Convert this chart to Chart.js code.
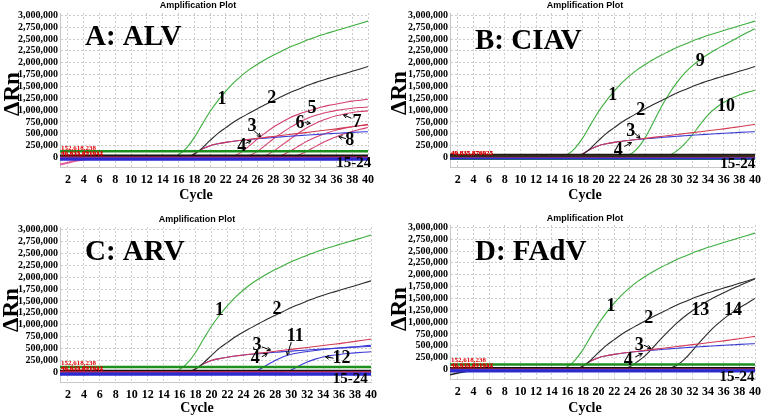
<!DOCTYPE html>
<html><head><meta charset="utf-8">
<script src="https://cdn.jsdelivr.net/npm/chart.js@4.4.1/dist/chart.umd.min.js"></script>
<style>
html,body{margin:0;padding:0;background:#fff;}
#wrap{position:relative;width:767px;height:418px;overflow:hidden;background:#fff;}
canvas{position:absolute;}
</style></head><body>
<div id="wrap">
<canvas id="cA" width="383" height="210" style="left:0px;top:0px"></canvas>
<canvas id="cB" width="382" height="210" style="left:385px;top:0px"></canvas>
<canvas id="cC" width="383" height="208" style="left:0px;top:210px"></canvas>
<canvas id="cD" width="382" height="208" style="left:385px;top:210px"></canvas>
</div>
<script>
// ---------- data (ΔRn in thousands) ----------
const cycles = [1,2,3,4,5,6,7,8,9,10,11,12,13,14,15,16,17,18,19,20,21,22,23,24,25,26,27,28,29,30,31,32,33,34,35,36,37,38,39,40];
const xTicks = [2,4,6,8,10,12,14,16,18,20,22,24,26,28,30,32,34,36,38,40];
const yTicks = [0,250,500,750,1000,1250,1500,1750,2000,2250,2500,2750,3000];
const yTickLabels = ['0','250,000','500,000','750,000','1,000,000','1,250,000','1,500,000','1,750,000','2,000,000','2,250,000','2,500,000','2,750,000','3,000,000'];

// shared curves 1-4
const curve1 = [-10,-10,-10,-10,-10,-10,-10,-10,-10,-10,-10,-10,-10,-10,-5,60,200,420,700,970,1200,1400,1580,1730,1860,1970,2070,2160,2240,2320,2390,2460,2520,2580,2630,2680,2730,2780,2830,2880];
const curve2 = [0,0,0,0,0,0,0,0,0,0, 0,0,0,0,0,0,0, 70,200,360,510,630,750,850,940,1030,1120,1200,1280,1360,1430,1500,1560,1620,1670,1720,1770,1820,1870,1920];
const curve3 = [0,0,0,0,0,0,0,0,0,0, 0,0,0,0,0,0,0, 80,180,250,290,320,345,365,385,405,425,445,465,485,505,525,545,565,585,605,628,651,675,700];
const curve4 = [0,0,0,0,0,0,0,0,0,0, 0,0,0,0,0,0,0, 80,180,250,290,320,345,365,380,395,410,423,436,448,460,471,482,492,502,512,521,530,538,545];

// panel A (ALV)
const curveA5 = [0,0,0,0,0,0,0,0,0,0, 0,0,0,0,0,0,0,0,0,0, 0,0, 30,120,250,390,520,640,740,830,900,960,1010,1060,1100,1130,1160,1190,1210,1230];
const curveA6 = [0,0,0,0,0,0,0,0,0,0, 0,0,0,0,0,0,0,0,0,0, 0,0,0,0, 40,130,260,390,510,620,720,800,870,920,960,995,1020,1040,1055,1065];
const curveA7 = [0,0,0,0,0,0,0,0,0,0, 0,0,0,0,0,0,0,0,0,0, 0,0,0,0,0,0, 40,130,250,370,490,600,690,770,830,880,920,950,970,985];
const curveAx = [0,0,0,0,0,0,0,0,0,0, 0,0,0,0,0,0,0,0,0,0, 0,0,0,0,0,0,0,0, 40,120,220,320,400,470,530,580,620,650,670,690];
const curveA8 = [0,0,0,0,0,0,0,0,0,0, 0,0,0,0,0,0,0,0,0,0, 0,0,0,0,0,0,0,0,0,0, 40,110,200,290,370,440,500,550,595,633];
const startA = [-150,-110,-70,-40,-15,0];
const thresholdA = 130;
const baselinesA = [-35,-22,5,35];

// panel B (CIAV)
const curveB9 = [0,0,0,0,0,0,0,0,0,0, 0,0,0,0,0,0,0,0,0,0, 0,0,0, 60,200,430,740,1060,1340,1580,1780,1940,2070,2180,2280,2370,2460,2550,2640,2720];
const curveB10 = [0,0,0,0,0,0,0,0,0,0, 0,0,0,0,0,0,0,0,0,0, 0,0,0,0,0,0,0,0, 40,140,290,480,700,900,1050,1160,1250,1320,1375,1420];
const thresholdB = -30;
const baselinesB = [-20,-8,18,40];

// panel C (ARV)
const curveC11 = [0,0,0,0,0,0,0,0,0,0, 0,0,0,0,0,0,0,0,0,0, 0,0,0,0,0, 60,160,250,330,380,415,440,462,480,497,512,526,540,555,570];
const curveC12 = [0,0,0,0,0,0,0,0,0,0, 0,0,0,0,0,0,0,0,0,0, 0,0,0,0,0,0,0,0,0, 50,140,220,280,325,355,378,396,411,423,433];
const thresholdC = 117;
const baselinesC = [-38,-22,8,33];

// panel D (FAdV)
const curveD13 = [0,0,0,0,0,0,0,0,0,0, 0,0,0,0,0,0,0,0,0,0, 0,0,0, 60,170,300,470,650,820,980,1120,1240,1350,1450,1540,1620,1700,1770,1840,1910];
const curveD14 = [0,0,0,0,0,0,0,0,0,0, 0,0,0,0,0,0,0,0,0,0, 0,0,0,0,0,0,0,0, 20,90,220,400,590,770,930,1070,1190,1300,1400,1500];
const startD = [-110,-75,-40,-15,-5,0];
const thresholdD = 106;
const baselinesD = [-30,-15,5,28];

// text labels [text, cycle, value]
const labelsA = [['1',21.5,1230],['2',27.8,1250],['3',25.3,655],['4',24.0,232],['5',32.9,1040],['6',31.4,711],['7',38.6,740],['8',37.7,373],['15-24',38.2,-118]];
const labelsB = [['1',21.8,1320],['2',25.4,1000],['9',33.0,2030],['10',36.3,1090],['3',24.1,550],['4',22.5,162],['15-24',37.8,-133]];
const labelsC = [['1',21.0,1310],['2',28.2,1320],['3',25.7,573],['4',25.5,294],['11',30.5,747],['12',36.3,294],['15-24',37.4,-147]];
const labelsD = [['1',21.6,1340],['2',26.4,1080],['13',33.0,1250],['14',37.2,1250],['3',25.2,513],['4',23.8,196],['15-24',37.7,-156]];
// arrows [fromCycle, fromValue, toCycle, toValue]
const arrowsA = [[25.6,560,26.4,440],[24.5,300,25.2,352],[32.0,735,32.7,722],[37.9,830,36.9,899],[37.2,400,36.3,440]];
const arrowsB = [[24.6,515,25.3,409],[23.3,232,24.2,317]];
const arrowsC = [[26.3,537,27.4,468],[26.3,327,27.0,399],[30.0,640,29.5,363],[35.3,300,34.3,327]];
const arrowsD = [[25.8,513,26.7,443],[24.7,266,25.6,338]];
// threshold read-outs [text, value]
const redTextA = [['152,618,238',150],['40,635,891912',62],['56,533,871943',25]];
const redTextB = [['49,835,876925',62],['49,835,876925',45]];
const redTextC = [['152,618,238',150],['40,635,891912',62],['56,533,871943',25]];
const redTextD = [['152,618,238',150],['40,635,891912',62],['56,533,871943',25]];
const panelNames = ['A: ALV','B: CIAV','C: ARV','D: FAdV'];

// ---------- rendering ----------
const GREEN = '#3cae3c', BLACK = '#2a2a2a', PINK = '#d4406e', RED = '#d23a55', BLUE = '#3a3ad6';
const baseStyles = [{c:'#2a2ad0',w:3},{c:'#3b3be0',w:2},{c:'#e0305c',w:1.5},{c:'#111111',w:2.5}];

function series(values, color, width) {
  return { data: values.map((v,i)=>({x: cycles[i], y: v})), borderColor: color, borderWidth: width || 1.1,
    pointRadius: 0, fill: false, cubicInterpolationMode: 'monotone' };
}
function flat(level, color, width) {
  return { data: [{x: cycles[0], y: level},{x: cycles[cycles.length-1], y: level}], borderColor: color,
    borderWidth: width, pointRadius: 0, fill: false };
}
function baseSets(levels, threshold, thrColor) {
  const out = levels.map((lv,i)=>flat(lv, baseStyles[i].c, baseStyles[i].w));
  out.push(flat(threshold, thrColor || '#1d8f1d', 2.5));
  return out;
}

function annot(g, name, labels, arrows, reds) {
  return { id: 'annot', afterDraw(chart) {
    const ctx = chart.ctx, xs = chart.scales.x, ys = chart.scales.y;
    ctx.save();
    ctx.fillStyle = '#000'; ctx.strokeStyle = '#000';
    ctx.font = 'bold 9px "Liberation Sans", Arial, sans-serif';
    ctx.textAlign = 'center'; ctx.textBaseline = 'middle';
    ctx.fillText('Amplification Plot', g.titleX, g.titleY);
    ctx.font = 'bold 29px "Liberation Serif", "Times New Roman", serif';
    ctx.textAlign = 'left'; ctx.textBaseline = 'alphabetic';
    ctx.fillText(name, g.nameX, g.nameY);
    ctx.font = 'bold 14px "Liberation Serif", serif';
    ctx.textAlign = 'center'; ctx.textBaseline = 'middle';
    ctx.fillText('Cycle', g.xTitleX, g.xTitleY);
    ctx.save();
    ctx.translate(g.yTitleX, g.yTitleY); ctx.rotate(-Math.PI/2);
    ctx.font = 'bold 23px "Liberation Serif", serif';
    ctx.fillText('ΔRn', 0, 0);
    ctx.restore();
    // red threshold read-outs
    ctx.fillStyle = '#e00000';
    ctx.font = 'bold 7px "Liberation Serif", serif';
    ctx.textAlign = 'left'; ctx.textBaseline = 'alphabetic';
    reds.forEach(r => ctx.fillText(r[0], xs.left + 1, ys.getPixelForValue(r[1])));
    // curve labels
    ctx.fillStyle = '#000';
    labels.forEach(l => {
      ctx.font = (l[0].length > 3 ? 'bold 15px' : 'bold 18px') + ' "Liberation Serif", serif';
      ctx.textAlign = 'center'; ctx.textBaseline = 'middle';
      ctx.fillText(l[0], xs.getPixelForValue(l[1]), ys.getPixelForValue(l[2]));
    });
    // arrows
    ctx.lineWidth = 1;
    arrows.forEach(a => {
      const x1 = xs.getPixelForValue(a[0]), y1 = ys.getPixelForValue(a[1]);
      const x2 = xs.getPixelForValue(a[2]), y2 = ys.getPixelForValue(a[3]);
      ctx.beginPath(); ctx.moveTo(x1,y1); ctx.lineTo(x2,y2); ctx.stroke();
      const ang = Math.atan2(y2-y1, x2-x1), h = 4;
      ctx.beginPath();
      ctx.moveTo(x2 - h*Math.cos(ang-0.5), y2 - h*Math.sin(ang-0.5));
      ctx.lineTo(x2, y2);
      ctx.lineTo(x2 - h*Math.cos(ang+0.5), y2 - h*Math.sin(ang+0.5));
      ctx.stroke();
    });
    ctx.restore();
  }};
}

function makeChart(id, g, datasets, name, labels, arrows, reds) {
  const el = document.getElementById(id);
  const W = el.width, H = el.height;
  const gridOpts = { color: '#cdcdcd', drawTicks: false, lineWidth: 1 };
  const fontTick = (s) => ({ family: '"Liberation Serif", "Times New Roman", serif', weight: 'bold', size: s });
  new Chart(el, {
    type: 'line',
    data: { datasets },
    options: {
      responsive: false, animation: false, events: [],
      layout: { padding: { left: 0, top: g.top, right: W - g.right, bottom: 0 } },
      plugins: { legend: { display: false }, tooltip: { enabled: false }, title: { display: false } },
      scales: {
        x: { type: 'linear', min: 1, max: 40,
          afterBuildTicks: s => { s.ticks = xTicks.map(v => ({ value: v })); },
          afterFit: s => { s.height = H - g.bottom; },
          grid: gridOpts, border: { color: '#c8c8c8', dash: [2,2] },
          ticks: { padding: 6, maxRotation: 0, autoSkip: false, color: '#000', font: fontTick(12), callback: v => String(v) } },
        y: { type: 'linear', min: -200, max: 3050,
          afterBuildTicks: s => { s.ticks = yTicks.map(v => ({ value: v })); },
          afterFit: s => { s.width = g.left; },
          grid: gridOpts, border: { color: '#c8c8c8', dash: [2,2] },
          ticks: { padding: 2, autoSkip: false, color: '#000', font: fontTick(10),
            callback: v => yTickLabels[yTicks.indexOf(v)] } }
      }
    },
    plugins: [annot(g, name, labels, arrows, reds)]
  });
}

const gA = {left:60,right:368,top:13,bottom:167,titleX:198,titleY:6,nameX:85,nameY:45,yTitleX:13,yTitleY:94,xTitleX:196,xTitleY:195};
const gB = {left:65,right:371,top:13,bottom:167,titleX:200,titleY:6,nameX:90,nameY:49,yTitleX:15,yTitleY:93,xTitleX:200,xTitleY:195};
const gC = {left:60,right:371,top:17,bottom:172,titleX:197,titleY:10,nameX:85,nameY:50,yTitleX:12,yTitleY:100,xTitleX:197,xTitleY:198};
const gD = {left:65,right:372,top:15,bottom:169,titleX:200,titleY:9,nameX:90,nameY:50,yTitleX:15,yTitleY:99,xTitleX:200,xTitleY:198};

makeChart('cA', gA, [
  ...baseSets(baselinesA, thresholdA),
  series(startA, '#e0609a', 2),
  series(curve1, GREEN), series(curve2, BLACK), series(curve3, RED), series(curve4, BLUE),
  series(curveA5, PINK), series(curveA6, PINK), series(curveA7, PINK), series(curveAx, PINK), series(curveA8, PINK)
], panelNames[0], labelsA, arrowsA, redTextA);

makeChart('cB', gB, [
  flat(baselinesB[0], '#3030d0', 2), flat(thresholdB, '#1d8f1d', 2),
  flat(baselinesB[1], '#e0305c', 1.5), flat(baselinesB[2], '#3a2a1c', 4), flat(baselinesB[3], '#151515', 4),
  series(curve1, GREEN), series(curve2, BLACK), series(curve3, RED), series(curve4, BLUE),
  series(curveB9, GREEN), series(curveB10, GREEN)
], panelNames[1], labelsB, arrowsB, redTextB);

makeChart('cC', gC, [
  ...baseSets(baselinesC, thresholdC),
  series(curve1, GREEN), series(curve2, BLACK), series(curve3, RED), series(curve4, BLUE),
  series(curveC11, BLUE), series(curveC12, BLUE)
], panelNames[2], labelsC, arrowsC, redTextC);

makeChart('cD', gD, [
  ...baseSets(baselinesD, thresholdD),
  series(startD, '#222222', 1.5),
  series(curve1, GREEN), series(curve2, BLACK), series(curve3, RED), series(curve4, BLUE),
  series(curveD13, BLACK), series(curveD14, BLACK)
], panelNames[3], labelsD, arrowsD, redTextD);
</script>
</body></html>
